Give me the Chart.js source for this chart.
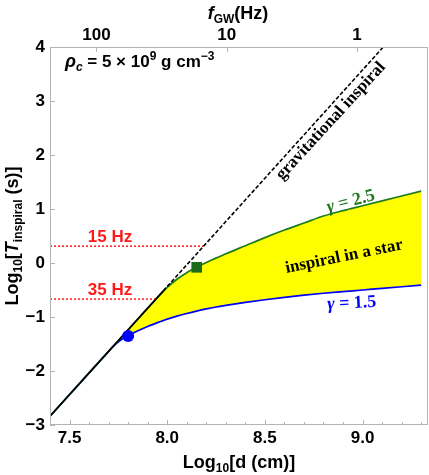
<!DOCTYPE html>
<html lang="en">
<head>
<meta charset="UTF-8">
<title>Inspiral time vs separation</title>
<script src="https://cdn.jsdelivr.net/npm/chart.js"></script>
<style>
    body { margin: 0; background: #fff; }
    #inspiralChart { display: block; }
</style>
</head>
<body>
<canvas id="inspiralChart" width="429" height="475"></canvas>
<script>
    // log10 separation d (cm), shared by both in-star curves
    const logD = [7.4, 7.5, 7.6, 7.7, 7.72, 7.76, 7.8, 7.85, 7.9, 7.95, 8.0, 8.05, 8.1, 8.15,
                  8.2, 8.25, 8.3, 8.4, 8.5, 8.6, 8.7, 8.8, 8.9, 9.0, 9.1, 9.2, 9.3];
    // log10 T_inspiral (s) for gamma = 2.5 and gamma = 1.5
    const gamma25 = [-2.836, -2.436, -2.036, -1.636, -1.556, -1.396, -1.236, -1.036, -0.836, -0.64,
                     -0.45, -0.30, -0.18, -0.08, 0.01, 0.09, 0.17, 0.32, 0.47, 0.61, 0.74, 0.87,
                     0.97, 1.06, 1.15, 1.24, 1.33];
    const gamma15 = [-2.836, -2.436, -2.036, -1.636, -1.556, -1.43, -1.345, -1.255, -1.175, -1.105,
                     -1.04, -0.985, -0.935, -0.89, -0.85, -0.815, -0.785, -0.73, -0.68, -0.635,
                     -0.595, -0.56, -0.53, -0.50, -0.47, -0.44, -0.41];

    // pure gravitational-wave inspiral (slope 4)
    const gwLogD = [7.4, 7.98, 9.106];
    const gwLogT = [-2.836, -0.516, 4.0];

    // frequency markers
    const hzLabels = ['15 Hz', '35 Hz'];
    const hzLogD = [8.187, 7.942];
    const hzLogT = [0.312, -0.668];

    const circleMark = [7.80, -1.35];
    const squareMark = [8.151, -0.08];

    const xTicks = [7.5, 8.0, 8.5, 9.0];
    const yTicks = [-3, -2, -1, 0, 1, 2, 3, 4];
    const freqTicks = [100, 10, 1];

    // f_GW ~ d^(-3/2)
    const fToLogD = f => (13.457 - Math.log10(f)) / 1.5;

    const xy = (xs, ys) => xs.map((x, i) => ({ x: x, y: ys[i] }));

    const SANS = '"Liberation Sans", Arial, sans-serif';
    const SERIF = '"Liberation Serif", "Times New Roman", serif';
    const GREEN = '#1f7a1f';
    const BLUE = '#0000ff';
    const RED = '#ff1a1a';

    function drawRich(ctx, parts, x, y) {
        let w = 0;
        parts.forEach(p => { ctx.font = p[1]; w += ctx.measureText(p[0]).width; });
        let cx = x - w / 2;
        parts.forEach(p => {
            ctx.font = p[1];
            ctx.fillText(p[0], cx, y + (p[2] || 0));
            cx += ctx.measureText(p[0]).width;
        });
        return w;
    }

    function rotatedRich(ctx, parts, x, y, deg, color) {
        ctx.save();
        ctx.translate(x, y);
        ctx.rotate(deg * Math.PI / 180);
        ctx.fillStyle = color;
        drawRich(ctx, parts, 0, 0);
        ctx.restore();
    }

    const decorations = {
        id: 'decorations',
        afterDatasetsDraw(chart) {
            const { ctx, chartArea: a, scales } = chart;
            ctx.save();
            // frame
            ctx.strokeStyle = '#b4b4b4';
            ctx.lineWidth = 1;
            ctx.strokeRect(a.left + 0.5, a.top + 0.5, a.right - a.left - 1, a.bottom - a.top - 1);

            // inward tick marks
            ctx.beginPath();
            for (let i = 74; i <= 93; i++) {
                const px = Math.round(scales.x.getPixelForValue(i / 10)) + 0.5;
                const len = i % 5 === 0 ? 5 : 3;
                ctx.moveTo(px, a.bottom);
                ctx.lineTo(px, a.bottom - len);
            }
            freqTicks.forEach(f => {
                const px = Math.round(scales.x.getPixelForValue(fToLogD(f))) + 0.5;
                ctx.moveTo(px, a.top);
                ctx.lineTo(px, a.top + 5);
            });
            yTicks.forEach(v => {
                const py = Math.round(scales.y.getPixelForValue(v)) + 0.5;
                ctx.moveTo(a.left, py);
                ctx.lineTo(a.left + 5, py);
            });
            ctx.stroke();

            ctx.textBaseline = 'alphabetic';
            ctx.fillStyle = '#000';

            // axis titles
            drawRich(ctx, [['f', 'italic bold 18px ' + SANS], ['GW', 'bold 12px ' + SANS, 4],
                           ['(Hz)', 'bold 18px ' + SANS]], 238, 19);
            drawRich(ctx, [['Log', 'bold 18px ' + SANS], ['10', 'bold 12px ' + SANS, 4],
                           ['[d (cm)]', 'bold 18px ' + SANS]], 239, 468);
            rotatedRich(ctx, [['Log', 'bold 18px ' + SANS], ['10', 'bold 12px ' + SANS, 4],
                              ['[', 'bold 18px ' + SANS], ['T', 'italic bold 18px ' + SANS],
                              ['inspiral', 'bold 12px ' + SANS, 4], [' (s)]', 'bold 18px ' + SANS]],
                        18, 236, -90, '#000');

            // density label, left aligned at x = 65
            const rho = [['\u03C1', 'italic bold 18px ' + SANS], ['c', 'italic bold 12px ' + SANS, 4],
                         [' = 5 \u00D7 10', 'bold 17px ' + SANS], ['9', 'bold 12px ' + SANS, -7],
                         [' g cm', 'bold 17px ' + SANS], ['\u22123', 'bold 12px ' + SANS, -7]];
            let w = 0;
            rho.forEach(p => { ctx.font = p[1]; w += ctx.measureText(p[0]).width; });
            drawRich(ctx, rho, 65 + w / 2, 67);

            // curve annotations
            rotatedRich(ctx, [['gravitational inspiral', 'bold 17px ' + SERIF]], 334, 124, -47.5, '#000');
            rotatedRich(ctx, [['inspiral in a star', 'bold 17px ' + SERIF]], 345, 261, -11.5, '#000');
            rotatedRich(ctx, [['\u03B3', 'italic bold 18px ' + SERIF], [' = 2.5', 'bold 18px ' + SERIF]],
                        352, 206, -14.5, GREEN);
            rotatedRich(ctx, [['\u03B3', 'italic bold 18px ' + SERIF], [' = 1.5', 'bold 18px ' + SERIF]],
                        352, 308, -3, BLUE);

            // frequency labels
            ctx.fillStyle = RED;
            hzLabels.forEach((t, i) => {
                const py = scales.y.getPixelForValue(hzLogT[i]);
                drawRich(ctx, [[t, 'bold 17px ' + SANS]], 110, py - 4);
            });
            ctx.restore();
        }
    };

    const tickFont = { family: SANS, size: 17, weight: 'bold' };

    const datasets = [
        { data: [{ x: circleMark[0], y: circleMark[1] }], showLine: false, pointRadius: 6,
          pointBackgroundColor: BLUE, pointBorderWidth: 0 },
        { data: [{ x: squareMark[0], y: squareMark[1] }], showLine: false, pointStyle: 'rect',
          pointRadius: 7.5, pointBackgroundColor: '#1a6b1a', pointBorderWidth: 0 },
        { data: xy(gwLogD, gwLogT), borderColor: '#000', borderWidth: 1.6, pointRadius: 0,
          segment: { borderDash: c => c.p0.parsed.x >= 7.97 ? [4, 2] : undefined } },
        { data: xy(logD, gamma25), borderColor: GREEN, borderWidth: 1.7, pointRadius: 0,
          cubicInterpolationMode: 'monotone', fill: 4, backgroundColor: '#ffff00' },
        { data: xy(logD, gamma15), borderColor: BLUE, borderWidth: 1.7, pointRadius: 0,
          cubicInterpolationMode: 'monotone', fill: false }
    ];
    hzLogD.forEach((d, i) => {
        datasets.push({ data: xy([7.4, d], [hzLogT[i], hzLogT[i]]), borderColor: RED,
                        borderWidth: 1.5, borderDash: [2, 2], pointRadius: 0, fill: false });
    });
    datasets.forEach(ds => { ds.xAxisID = 'x'; ds.yAxisID = 'y'; });

    new Chart(document.getElementById('inspiralChart'), {
        type: 'line',
        data: { datasets: datasets },
        options: {
            responsive: false,
            animation: false,
            devicePixelRatio: 1,
            layout: { autoPadding: false, padding: { left: 0, right: 1, top: 0, bottom: 0 } },
            plugins: {
                legend: { display: false },
                tooltip: { enabled: false },
                filler: { propagate: false, drawTime: 'beforeDatasetsDraw' }
            },
            scales: {
                x: {
                    type: 'linear', position: 'bottom', min: 7.4, max: 9.335,
                    afterBuildTicks: s => { s.ticks = xTicks.map(v => ({ value: v })); },
                    ticks: { callback: v => v.toFixed(1), font: tickFont, color: '#000',
                             padding: 3, maxRotation: 0, autoSkip: false },
                    grid: { display: false, drawTicks: false },
                    border: { display: false },
                    afterFit: s => { s.height = 50; }
                },
                x2: {
                    type: 'linear', position: 'top', min: 7.4, max: 9.335,
                    afterBuildTicks: s => { s.ticks = freqTicks.map(f => ({ value: fToLogD(f) })); },
                    ticks: { callback: (v, i) => String(freqTicks[i]), font: tickFont, color: '#000',
                             padding: 1, maxRotation: 0, autoSkip: false },
                    grid: { display: false, drawTicks: false },
                    border: { display: false },
                    afterFit: s => { s.height = 47; }
                },
                y: {
                    type: 'linear', position: 'left', min: -3, max: 4,
                    afterBuildTicks: s => { s.ticks = yTicks.map(v => ({ value: v })); },
                    ticks: { callback: v => v < 0 ? '\u2212' + (-v) : String(v), font: tickFont,
                             color: '#000', padding: 5, autoSkip: false },
                    grid: { display: false, drawTicks: false },
                    border: { display: false },
                    afterFit: s => { s.height = undefined; s.width = 50; }
                }
            }
        },
        plugins: [decorations]
    });
</script>
</body>
</html>
